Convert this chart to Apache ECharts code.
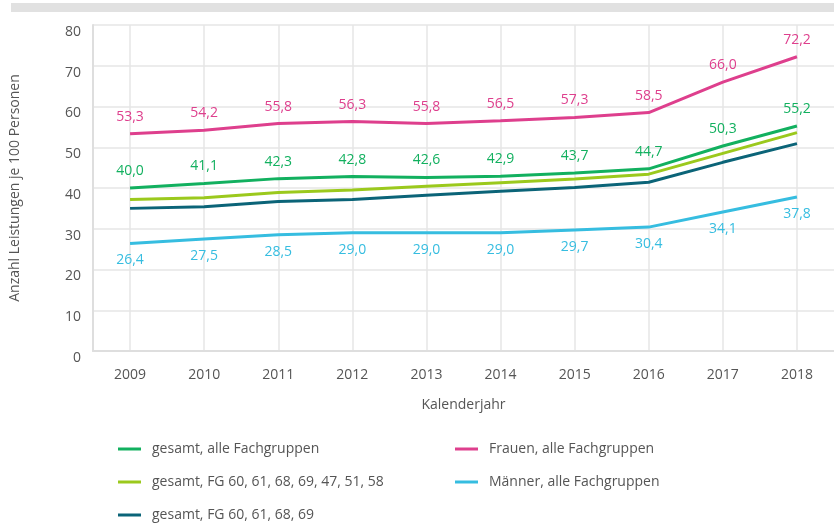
<!DOCTYPE html>
<html>
<head>
<meta charset="utf-8">
<style>
  html, body { margin: 0; padding: 0; background: #ffffff; }
  #chart { width: 834px; height: 526px; }
</style>
<script src="https://cdn.jsdelivr.net/npm/echarts@6/dist/echarts.min.js"></script>
</head>
<body>
<div id="chart"></div>
<script>
// Kalenderjahre
const years = ['2009', '2010', '2011', '2012', '2013', '2014', '2015', '2016', '2017', '2018'];

// Anzahl Leistungen je 100 Personen
const gesamtAlle = [40.0, 41.1, 42.3, 42.8, 42.6, 42.9, 43.7, 44.7, 50.3, 55.2];
const gesamtFG7 = [37.2, 37.6, 38.9, 39.5, 40.4, 41.3, 42.2, 43.4, 48.5, 53.6];
const gesamtFG4 = [35.0, 35.4, 36.7, 37.2, 38.2, 39.2, 40.1, 41.4, 46.3, 50.9];
const frauenAlle = [53.3, 54.2, 55.8, 56.3, 55.8, 56.5, 57.3, 58.5, 66.0, 72.2];
const maennerAlle = [26.4, 27.5, 28.5, 29.0, 29.0, 29.0, 29.7, 30.4, 34.1, 37.8];

const names = {
  gesamtAlle: 'gesamt, alle Fachgruppen',
  gesamtFG7: 'gesamt, FG 60, 61, 68, 69, 47, 51, 58',
  gesamtFG4: 'gesamt, FG 60, 61, 68, 69',
  frauenAlle: 'Frauen, alle Fachgruppen',
  maennerAlle: 'Männer, alle Fachgruppen'
};

const colors = {
  gesamtAlle: '#12b05f',
  gesamtFG7: '#9bc91d',
  gesamtFG4: '#0b6478',
  frauenAlle: '#de3f8d',
  maennerAlle: '#36bde0'
};

const FONT = 'Open Sans';
const TEXT = '#555555';
const fmt = p => p.value.toFixed(1).replace('.', ',');

function lineSeries(key, data, labelPos) {
  const s = {
    name: names[key],
    type: 'line',
    data: data,
    symbol: 'circle',
    symbolSize: 0.1,
    showSymbol: true,
    lineStyle: { width: 3, color: colors[key] },
    itemStyle: { color: colors[key] },
    emphasis: { disabled: true },
    label: { show: false }
  };
  if (labelPos) {
    s.label = {
      show: true,
      position: labelPos,
      distance: 10,
      formatter: fmt,
      color: colors[key],
      fontFamily: FONT,
      fontSize: 14
    };
  }
  return s;
}

const legendText = { color: TEXT, fontFamily: FONT, fontSize: 14, lineHeight: 16, padding: [0, 0, 0, 6] };

function legendColumn(left, keys) {
  return {
    orient: 'vertical',
    left: left,
    top: 441,
    padding: 0,
    itemWidth: 23,
    itemHeight: 3,
    itemGap: 17,
    icon: 'rect',
    textStyle: legendText,
    data: keys.map(k => names[k]),
    selectedMode: false
  };
}

const chart = echarts.init(document.getElementById('chart'), null, { renderer: 'canvas' });
chart.setOption({
  animation: false,
  backgroundColor: '#ffffff',
  graphic: [{
    type: 'rect',
    shape: { x: 11, y: 3, width: 823, height: 9 },
    style: { fill: '#e1e1e1' },
    silent: true
  }],
  grid: { left: 91.5, top: 25, right: -2.5, bottom: 175, containLabel: false },
  legend: [
    legendColumn(118, ['gesamtAlle', 'gesamtFG7', 'gesamtFG4']),
    legendColumn(455, ['frauenAlle', 'maennerAlle'])
  ],
  xAxis: {
    type: 'category',
    data: years,
    boundaryGap: true,
    name: 'Kalenderjahr',
    nameLocation: 'middle',
    nameGap: 47,
    nameTextStyle: { color: TEXT, fontFamily: FONT, fontSize: 14 },
    axisLine: { show: true, lineStyle: { color: '#dedede', width: 2 } },
    axisTick: { show: false },
    axisLabel: { color: TEXT, fontFamily: FONT, fontSize: 14, margin: 17 },
    splitLine: { show: true, alignWithLabel: true, lineStyle: { color: '#e6e6e6', width: 1.5 } }
  },
  yAxis: {
    type: 'value',
    min: 0,
    max: 80,
    interval: 10,
    name: 'Anzahl Leistungen je 100 Personen',
    nameLocation: 'middle',
    nameGap: 71,
    nameTextStyle: { color: TEXT, fontFamily: FONT, fontSize: 14 },
    axisLine: { show: true, lineStyle: { color: '#dedede', width: 2 } },
    axisTick: { show: false },
    axisLabel: { color: TEXT, fontFamily: FONT, fontSize: 14, margin: 12, verticalAlign: 'top' },
    splitLine: { show: true, lineStyle: { color: '#e6e6e6', width: 1.5 } }
  },
  series: [
    lineSeries('maennerAlle', maennerAlle, 'bottom'),
    lineSeries('gesamtFG4', gesamtFG4, null),
    lineSeries('gesamtFG7', gesamtFG7, null),
    lineSeries('gesamtAlle', gesamtAlle, 'top'),
    lineSeries('frauenAlle', frauenAlle, 'top')
  ]
});
</script>
</body>
</html>
